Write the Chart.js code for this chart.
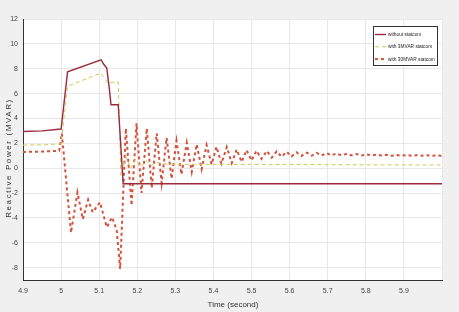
<!DOCTYPE html>
<html>
<head>
<meta charset="utf-8">
<script src="https://cdn.jsdelivr.net/npm/chart.js@4"></script>
<style>
  body { margin: 0; background: #f0f0f0; }
  canvas { display: block; }
</style>
</head>
<body>
<canvas id="chart" width="459" height="312"></canvas>
<script>
// tick values
const xTicks = [4.9, 5.0, 5.1, 5.2, 5.3, 5.4, 5.5, 5.6, 5.7, 5.8, 5.9, 6.0];
const yTicks = [-8, -6, -4, -2, 0, 2, 4, 6, 8, 10, 12];

// without statcom
const timeWithout = [4.9, 4.95, 5.0, 5.017, 5.105, 5.111, 5.12, 5.127, 5.131, 5.15, 5.163, 6.0];
const qWithout = [2.95, 3.0, 3.15, 7.75, 8.72, 8.4, 8.05, 6.3, 5.1, 5.1, -1.25, -1.25];

// with 3MVAR statcom
const time3 = [4.9, 4.95, 5.0, 5.017, 5.105, 5.122, 5.15, 5.157, 5.17, 5.183, 5.196, 5.21, 5.223, 5.236, 5.25, 5.28, 5.35, 5.5, 6.0];
const q3 = [1.85, 1.88, 1.95, 6.6, 7.65, 6.85, 6.95, -0.6, 0.9, 0.0, 0.75, 0.1, 0.6, 0.2, 0.45, 0.32, 0.3, 0.3, 0.25];

// with 30MVAR statcom
const time30 = [4.9, 4.95, 4.995, 5.002, 5.026, 5.043, 5.057, 5.071, 5.083, 5.102, 5.12, 5.134, 5.146, 5.155,
  5.17, 5.185, 5.198, 5.211, 5.225, 5.238, 5.251, 5.264, 5.277, 5.29, 5.303, 5.316, 5.33, 5.343, 5.356, 5.369,
  5.382, 5.395, 5.408, 5.421, 5.435, 5.448, 5.461, 5.474, 5.487, 5.5, 5.513, 5.526, 5.54, 5.553, 5.566, 5.579,
  5.592, 5.605, 5.618, 5.631, 5.645, 5.658, 5.671, 5.684, 5.697, 5.71, 5.723, 5.736, 5.75, 5.763, 5.776, 5.789,
  5.802, 5.815, 5.828, 5.841, 5.855, 5.868, 5.881, 5.894, 5.907, 5.92, 5.933, 5.946, 5.96, 5.973, 5.986, 6.0];
const q30 = [1.3, 1.33, 1.4, 2.8, -5.2, -1.95, -4.1, -2.55, -3.55, -2.75, -4.75, -3.95, -5.0, -8.1,
  3.2, -3.0, 3.6, -2.0, 3.2, -1.6, 2.8, -1.2, 2.45, -0.85, 2.2, -0.5, 2.05, -0.3, 1.92, -0.08,
  1.86, 0.3, 1.72, 0.37, 1.7, 0.42, 1.5, 0.5, 1.45, 0.62, 1.4, 0.75, 1.38, 0.85, 1.35, 0.92,
  1.32, 0.95, 1.28, 0.98, 1.25, 1.0, 1.22, 1.02, 1.2, 1.03, 1.18, 1.03, 1.15, 1.03, 1.13, 1.02,
  1.11, 1.02, 1.09, 1.01, 1.07, 1.0, 1.06, 1.0, 1.05, 1.0, 1.04, 1.0, 1.03, 0.99, 1.02, 1.0];

const seriesNames = ['without statcom', 'with 3MVAR statcom', 'with 30MVAR statcom'];

const toPoints = (xs, ys) => xs.map((x, i) => ({ x: x, y: ys[i] }));
const narrow = '"Liberation Sans Narrow", "Liberation Sans", sans-serif';

// grey figure, white axes box, axis titles and the boxed legend
const frame = {
  id: 'frame',
  beforeDraw(chart) {
    const { ctx, chartArea: a } = chart;
    ctx.save();
    ctx.fillStyle = '#f0f0f0';
    ctx.fillRect(0, 0, chart.width, chart.height);
    ctx.fillStyle = '#ffffff';
    ctx.fillRect(a.left, a.top, a.right - a.left, a.bottom - a.top);
    ctx.restore();
  },
  afterDraw(chart) {
    const { ctx } = chart;
    ctx.save();
    ctx.fillStyle = '#333';
    ctx.textAlign = 'center';
    ctx.textBaseline = 'middle';
    ctx.font = '8px ' + narrow;
    ctx.fillText('Time (second)', 233, 305);

    ctx.translate(9, 158);
    ctx.rotate(-Math.PI / 2);
    ctx.font = '8px "Liberation Sans", sans-serif';
    ctx.letterSpacing = '1.6px';
    ctx.fillText('Reactive Power (MVAR)', 0, 0);
    ctx.restore();

    // legend
    ctx.save();
    ctx.fillStyle = '#ffffff';
    ctx.fillRect(373, 26, 64, 39);
    ctx.strokeStyle = '#333';
    ctx.lineWidth = 1;
    ctx.strokeRect(373.5, 26.5, 64, 39);
    ctx.font = '6px ' + narrow;
    ctx.textBaseline = 'middle';
    chart.data.datasets.forEach((ds, i) => {
      const y = 34.5 + i * 12.3;
      ctx.strokeStyle = ds.borderColor;
      ctx.lineWidth = ds.borderWidth;
      ctx.setLineDash(ds.borderDash || []);
      ctx.beginPath();
      ctx.moveTo(375, y);
      ctx.lineTo(386, y);
      ctx.stroke();
      ctx.setLineDash([]);
      ctx.fillStyle = '#222';
      ctx.save();
      ctx.translate(388, y);
      ctx.scale(0.8, 1);
      ctx.fillText(seriesNames[i], 0, 0);
      ctx.restore();
    });
    ctx.restore();
  }
};

new Chart(document.getElementById('chart'), {
  type: 'line',
  data: {
    datasets: [
      {
        label: seriesNames[0],
        data: toPoints(timeWithout, qWithout),
        borderColor: '#9b2a3a',
        borderWidth: 1.4,
        pointRadius: 0,
        tension: 0
      },
      {
        label: seriesNames[1],
        data: toPoints(time3, q3),
        borderColor: '#cfcb5c',
        borderWidth: 1,
        borderDash: [4, 3],
        pointRadius: 0,
        tension: 0
      },
      {
        label: seriesNames[2],
        data: toPoints(time30, q30),
        borderColor: '#d4523c',
        borderWidth: 2,
        borderDash: [3, 3],
        pointRadius: 0,
        tension: 0
      }
    ]
  },
  options: {
    responsive: false,
    animation: false,
    layout: { padding: { left: 0, top: 19, right: 17, bottom: 0 } },
    plugins: { legend: { display: false }, tooltip: { enabled: false } },
    scales: {
      x: {
        type: 'linear',
        min: 4.9,
        max: 6.0,
        afterBuildTicks: axis => { axis.ticks = xTicks.map(v => ({ value: v })); },
        afterFit: axis => { axis.height = 32; },
        ticks: {
          autoSkip: false,
          maxRotation: 0,
          padding: 7,
          color: '#444',
          font: { family: narrow, size: 7 },
          callback: v => (v >= 5.95 ? '' : (Math.abs(v - 5) < 1e-9 ? '5' : v.toFixed(1)))
        },
        grid: { color: '#e8e8e8', drawTicks: false },
        border: { color: '#333', width: 1 }
      },
      y: {
        min: -9,
        max: 12,
        afterBuildTicks: axis => { axis.ticks = yTicks.map(v => ({ value: v })); },
        afterFit: axis => { axis.width = 23; },
        ticks: {
          padding: 5,
          color: '#444',
          font: { family: narrow, size: 7 }
        },
        grid: { color: '#e8e8e8', drawTicks: false },
        border: { color: '#333', width: 1 }
      }
    }
  },
  plugins: [frame]
});
</script>
</body>
</html>
